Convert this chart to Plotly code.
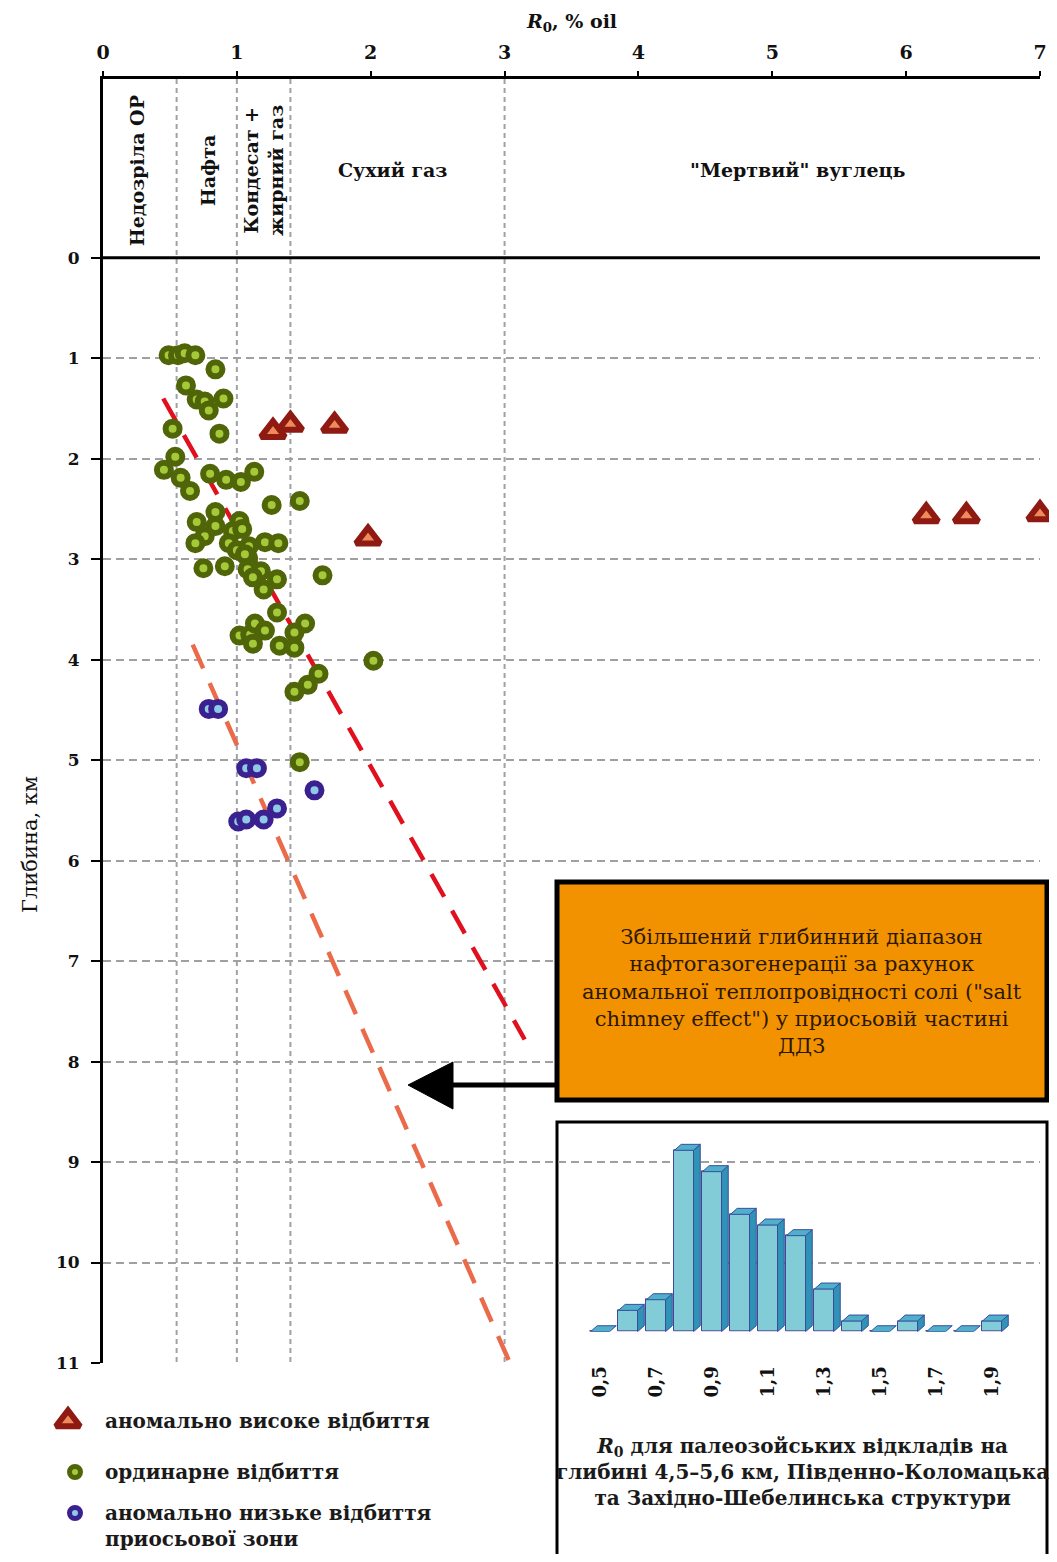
import plotly.graph_objects as go

# page is 1057x1562; the browser's default 8px body margin is kept, so the figure is sized to fit
OX, OY = 8, 8
FW, FH = 1057 - 2 * OX, 1562 - 2 * OY

# ---------------- data ----------------
ZONE_BOUNDS = [0.55, 1.0, 1.4, 3.0]
X_TICKS = [0, 1, 2, 3, 4, 5, 6, 7]
Y_TICKS = [0, 1, 2, 3, 4, 5, 6, 7, 8, 9, 10, 11]

TRI_X = [1.27, 1.40, 1.73, 1.98, 6.15, 6.45, 7.0]
TRI_Y = [1.73, 1.66, 1.67, 2.79, 2.57, 2.57, 2.55]

GREEN_X = [0.49, 0.56, 0.61, 0.69, 0.84, 0.62, 0.70, 0.76, 0.90, 0.79, 0.52, 0.87,
           0.54, 0.455, 0.58, 0.65, 0.80, 0.92, 1.03, 1.13, 1.26, 1.47, 0.84, 0.70,
           0.84, 1.02, 0.97, 0.76, 0.69, 0.94, 1.09, 1.00, 1.21, 1.31, 1.085, 1.04,
           1.06, 0.75, 0.91, 1.08, 1.18, 1.30, 1.20, 1.12, 1.64, 1.30, 1.51, 1.02,
           1.10, 1.135, 1.21, 1.12, 1.32, 1.43, 1.43, 2.02, 1.61, 1.53, 1.43, 1.47]
GREEN_Y = [0.97, 0.97, 0.95, 0.97, 1.11, 1.27, 1.41, 1.43, 1.40, 1.52, 1.70, 1.75,
           1.98, 2.11, 2.19, 2.32, 2.15, 2.21, 2.23, 2.13, 2.46, 2.42, 2.53, 2.63,
           2.67, 2.62, 2.72, 2.77, 2.84, 2.84, 2.87, 2.91, 2.83, 2.84, 2.99, 2.70,
           2.95, 3.09, 3.07, 3.10, 3.12, 3.20, 3.30, 3.18, 3.16, 3.53, 3.64, 3.76,
           3.75, 3.64, 3.71, 3.84, 3.86, 3.73, 3.88, 4.01, 4.14, 4.25, 4.32, 5.02]

PURPLE_X = [0.79, 0.86, 1.07, 1.15, 1.58, 1.01, 1.07, 1.20, 1.30]
PURPLE_Y = [4.49, 4.49, 5.08, 5.08, 5.30, 5.61, 5.59, 5.59, 5.48]

RED_LINE_X = [0.45, 3.15]
RED_LINE_Y = [1.40, 7.78]
ORANGE_LINE_X = [0.67, 3.04]
ORANGE_LINE_Y = [3.85, 11.0]

HIST_BINS = [0.5, 0.6, 0.7, 0.8, 0.9, 1.0, 1.1, 1.2, 1.3, 1.4, 1.5, 1.6, 1.7, 1.8, 1.9]
HIST_COUNTS = [0, 2, 3, 17, 15, 11, 10, 9, 4, 1, 0, 1, 0, 0, 1]
HIST_TICKS = [0.5, 0.7, 0.9, 1.1, 1.3, 1.5, 1.7, 1.9]
HIST_TICKTEXT = ["0,5", "0,7", "0,9", "1,1", "1,3", "1,5", "1,7", "1,9"]

ZONE_LABELS = ["Недозріла ОР", "Нафта", "Кондесат +<br>жирний газ", "Сухий газ", "\"Мертвий\" вуглець"]
ZONE_LABEL_X = [0.26, 0.79, 1.2, 2.17, 5.19]
ZONE_LABEL_ANGLE = [-90, -90, -90, 0, 0]

LEGEND_NAMES = ["аномально високе відбиття", "ординарне відбиття",
                "аномально низьке відбиття<br>приосьової зони"]

SERIF = "DejaVu Serif"

# legend layout (page pixels): key centres and text rows
LEG_KEY_X = [68, 75, 75]
LEG_KEY_Y = [1421, 1472, 1513]
LEG_TEXT_Y = [1421, 1472, 1526]


def px(x):
    return (x - OX) / FW


def py(y):
    return 1 - (y - OY) / FH


TRI_MARKER = dict(symbol="triangle-up", size=21, color="#ef8a5a", line=dict(color="#8e1a12", width=6))
GREEN_MARKER = dict(symbol="circle", size=14, color="#a6c93a", line=dict(color="#4f6508", width=6))
PURPLE_MARKER = dict(symbol="circle", size=14, color="#8ecae6", line=dict(color="#3b2190", width=6))

fig = go.Figure()

# regression lines
fig.add_trace(go.Scatter(x=RED_LINE_X, y=RED_LINE_Y, mode="lines",
                         line=dict(color="#e0101e", width=4.5, dash="26px,16px"),
                         showlegend=False, hoverinfo="skip"))
fig.add_trace(go.Scatter(x=ORANGE_LINE_X, y=ORANGE_LINE_Y, mode="lines",
                         line=dict(color="#ea6a4a", width=4.5, dash="26px,16px"),
                         showlegend=False, hoverinfo="skip"))

# points
fig.add_trace(go.Scatter(x=TRI_X, y=TRI_Y, mode="markers", name=LEGEND_NAMES[0],
                         cliponaxis=False, marker=TRI_MARKER, showlegend=False))
fig.add_trace(go.Scatter(x=GREEN_X, y=GREEN_Y, mode="markers", name=LEGEND_NAMES[1],
                         marker=GREEN_MARKER, showlegend=False))
fig.add_trace(go.Scatter(x=PURPLE_X, y=PURPLE_Y, mode="markers", name=LEGEND_NAMES[2],
                         marker=PURPLE_MARKER, showlegend=False))

# legend keys drawn on an overlay axis measured in page pixels
for kx, ky, mk in zip(LEG_KEY_X, LEG_KEY_Y, [TRI_MARKER,
                                              dict(GREEN_MARKER, size=11, line=dict(color="#4f6508", width=5)),
                                              dict(PURPLE_MARKER, size=11, line=dict(color="#3b2190", width=5))]):
    fig.add_trace(go.Scatter(x=[kx], y=[ky], xaxis="x3", yaxis="y3", mode="markers",
                             marker=mk, cliponaxis=False, showlegend=False, hoverinfo="skip"))

# ---------------- histogram inset (3D-looking bars) ----------------
BW = 0.068
DX = 0.024
DY = 0.56
fig.add_trace(go.Bar(x=HIST_BINS, y=HIST_COUNTS, width=BW, xaxis="x2", yaxis="y2",
                     marker=dict(color="#82ccd8", line=dict(color="#40479a", width=1)),
                     showlegend=False, hoverinfo="skip"))
side_x, side_y, top_x, top_y = [], [], [], []
for b, c in zip(HIST_BINS, HIST_COUNTS):
    r = b + BW / 2
    l = b - BW / 2
    if c > 0:
        side_x += [r, r + DX, r + DX, r, r, None]
        side_y += [0, DY, c + DY, c, 0, None]
    top_x += [l, r, r + DX, l + DX, l, None]
    top_y += [c, c, c + DY, c + DY, c, None]
fig.add_trace(go.Scatter(x=side_x, y=side_y, xaxis="x2", yaxis="y2", mode="lines",
                         fill="toself", fillcolor="#2f93b6",
                         line=dict(color="#3a4d9c", width=1), showlegend=False, hoverinfo="skip"))
fig.add_trace(go.Scatter(x=top_x, y=top_y, xaxis="x2", yaxis="y2", mode="lines",
                         fill="toself", fillcolor="#4fb0cc",
                         line=dict(color="#3a4d9c", width=1), showlegend=False, hoverinfo="skip"))

# ---------------- shapes ----------------
shapes = []
for b in ZONE_BOUNDS:
    shapes.append(dict(type="line", xref="x", yref="y", x0=b, x1=b, y0=-1.78, y1=11,
                       line=dict(color="#a0a0a8", width=2, dash="5px,4px"), layer="below"))
shapes.append(dict(type="line", xref="x", yref="y", x0=0, x1=7, y0=0, y1=0,
                   line=dict(color="black", width=3)))
# orange note box
shapes.append(dict(type="rect", xref="paper", yref="paper",
                   x0=px(557), x1=px(1047), y0=py(1100), y1=py(882),
                   fillcolor="#f39200", line=dict(color="black", width=5)))
# arrow
shapes.append(dict(type="line", xref="paper", yref="paper",
                   x0=px(557), x1=px(445), y0=py(1085), y1=py(1085),
                   line=dict(color="black", width=5)))
shapes.append(dict(type="path", xref="paper", yref="paper",
                   path=f"M {px(408)} {py(1085)} L {px(453)} {py(1062)} L {px(453)} {py(1109)} Z",
                   fillcolor="black", line=dict(color="black", width=1)))
# inset box (white panel, open at the bottom edge of the figure)
shapes.append(dict(type="rect", xref="paper", yref="paper",
                   x0=px(557), x1=px(1047), y0=0, y1=py(1122),
                   fillcolor="white", line=dict(width=0), layer="below"))
shapes.append(dict(type="path", xref="paper", yref="paper",
                   path=f"M {px(557)} 0 L {px(557)} {py(1122)} L {px(1047)} {py(1122)} L {px(1047)} 0",
                   line=dict(color="black", width=3), layer="below"))

# ---------------- annotations ----------------
ann = []
for t, xv, ang in zip(ZONE_LABELS, ZONE_LABEL_X, ZONE_LABEL_ANGLE):
    ann.append(dict(text=f"<b>{t}</b>", x=xv, y=-0.87, xref="x", yref="y", showarrow=False,
                    xanchor="center", yanchor="middle",
                    textangle=ang, font=dict(family=SERIF, size=19, color="#111")))
ann.append(dict(text="<b><i>R</i><sub>0</sub>, % oil</b>", x=px(571), y=py(22),
                xref="paper", yref="paper", showarrow=False, xanchor="center", yanchor="middle",
                font=dict(family=SERIF, size=19, color="#111")))
ann.append(dict(text="Глибина, км", x=px(30), y=py(845), xref="paper", yref="paper",
                showarrow=False, textangle=-90, xanchor="center", yanchor="middle",
                font=dict(family=SERIF, size=21, color="#111")))
ann.append(dict(text=("Збільшений глибинний діапазон<br>нафтогазогенерації за рахунок<br>"
                      "аномальної теплопровідності солі (\"salt<br>chimney effect\") у приосьовій частині<br>ДДЗ"),
                x=px(802), y=py(991), xref="paper", yref="paper", showarrow=False,
                xanchor="center", yanchor="middle",
                font=dict(family=SERIF, size=21, color="#2b1800")))
ann.append(dict(text=("<b><i>R</i><sub>0</sub> для палеозойських відкладів на<br>"
                      "глибині 4,5–5,6 км, Південно-Коломацька<br>та Західно-Шебелинська структури</b>"),
                x=px(802), y=py(1472), xref="paper", yref="paper", showarrow=False,
                xanchor="center", yanchor="middle",
                font=dict(family=SERIF, size=20, color="#1a1a1a")))
for name, ty in zip(LEGEND_NAMES, LEG_TEXT_Y):
    ann.append(dict(text=f"<b>{name}</b>", x=px(103), y=py(ty), xref="paper", yref="paper",
                    showarrow=False, xanchor="left", yanchor="middle", align="left",
                    font=dict(family=SERIF, size=20, color="#1a1a1a")))

fig.update_layout(
    width=FW, height=FH,
    margin=dict(l=0, r=0, t=0, b=0),
    paper_bgcolor="white", plot_bgcolor="rgba(0,0,0,0)",
    showlegend=False,
    xaxis=dict(domain=[px(103), px(1040)], range=[0, 7], side="top",
               tickvals=X_TICKS, ticks="outside", ticklen=5, tickwidth=2, tickcolor="black",
               showline=True, linecolor="black", linewidth=3, showgrid=False, zeroline=False,
               ticklabelstandoff=4,
               tickfont=dict(family=SERIF, size=19, color="#111", weight="bold"), automargin=False),
    yaxis=dict(domain=[py(1363), py(79)], range=[11, -1.78],
               tickvals=Y_TICKS, ticks="outside", ticklen=9, tickwidth=2, tickcolor="black",
               showline=True, linecolor="black", linewidth=3,
               showgrid=True, gridcolor="#a0a0a0", gridwidth=2, griddash="8px,5px",
               zeroline=False, ticklabelstandoff=8,
               tickfont=dict(family=SERIF, size=17, color="#111", weight="bold"), automargin=False),
    xaxis2=dict(domain=[px(565), px(1040)], range=[0.375, 2.0714], anchor="y2",
                tickvals=HIST_TICKS, ticktext=HIST_TICKTEXT, tickangle=-90,
                ticks="", ticklabelstandoff=30, showline=False, showgrid=False, zeroline=False,
                tickfont=dict(family=SERIF, size=18, color="#111", weight="bold"), automargin=False),
    yaxis2=dict(domain=[py(1331.7), py(1118.3)], range=[0, 20], anchor="x2",
                showticklabels=False, showgrid=False, zeroline=False, showline=False,
                automargin=False),
    xaxis3=dict(domain=[px(OX), px(550)], range=[OX, 550], anchor="y3", visible=False),
    yaxis3=dict(domain=[py(OY + FH), py(1390)], range=[OY + FH, 1390], anchor="x3", visible=False),
    shapes=shapes, annotations=ann, bargap=0,
)

fig.write_html("out.html", config={"displayModeBar": False})
